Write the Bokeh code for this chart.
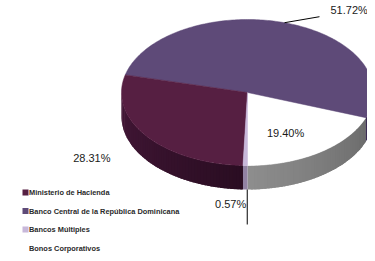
import math
from bokeh.plotting import figure
from bokeh.models import Range1d
from bokeh.embed import file_html
from bokeh.resources import INLINE
from bokeh.core.properties import value

# ---- data ----
categories = ["Ministerio de Hacienda",
              "Banco Central de la República Dominicana",
              "Bancos Múltiples",
              "Bonos Corporativos"]
values = [28.31, 51.72, 0.57, 19.40]
labels = ["28.31%", "51.72%", "0.57%", "19.40%"]
top_colors = ["#561f42", "#5e4a78", "#c8b8da", "#ffffff"]
side_light = ["#48193b", "#3a2c52", "#9a8aab", "#8e8e8e"]
side_dark = ["#2a0d22", "#2a1f3b", "#8a7a9b", "#6c6c6c"]
legend_colors = ["#561f42", "#5e4a78", "#c8b8da", "#ffffff"]
# drawing order (counter-clockwise from the bottom)
order = [3, 1, 0, 2]

# ---- geometry ----
W, H = 367, 253
cx, cy, rx, ry, depth = 247, 92, 126, 73, 24
start = 270.0

p = figure(width=W, height=H, output_backend="svg", toolbar_location=None,
           x_range=Range1d(0, W), y_range=Range1d(H, 0),
           min_border=0, outline_line_color=None)
p.axis.visible = False
p.grid.visible = False
p.background_fill_color = "white"
p.border_fill_color = "white"


def pt(a, dy=0.0):
    r = math.radians(a)
    return cx + rx * math.cos(r), cy - ry * math.sin(r) + dy


def mix(c1, c2, t):
    a = [int(c1[i:i + 2], 16) for i in (1, 3, 5)]
    b = [int(c2[i:i + 2], 16) for i in (1, 3, 5)]
    return "#%02x%02x%02x" % tuple(round(a[k] + (b[k] - a[k]) * t) for k in range(3))


total = sum(values)
spans = {}
a0 = start
for i in order:
    a1 = a0 + values[i] / total * 360.0
    spans[i] = (a0, a1)
    a0 = a1

# sides (front half only), drawn as overlapping strips for a gradient
sx, sy, sc = [], [], []
for i in order:
    a0, a1 = spans[i]
    n = max(1, int((a1 - a0) / 1.5))
    for k in range(n):
        b0 = a0 + (a1 - a0) * k / n
        b1 = a0 + (a1 - a0) * (k + 1) / n
        m = ((b0 + b1) / 2) % 360
        if m < 180:
            continue
        e1 = b1 + (1.2 if k < n - 1 else 0.0)
        p0 = pt(b0); p1 = pt(e1)
        q1 = pt(e1, depth); q0 = pt(b0, depth)
        sx.append([p0[0], p1[0], q1[0], q0[0]])
        sy.append([p0[1], p1[1], q1[1], q0[1]])
        frac = (k + 0.5) / n
        sc.append(mix(side_light[i], side_dark[i], frac))
p.patches(sx, sy, fill_color=sc, line_color=None)

# tops
tx, ty, tc = [], [], []
for i in order:
    a0, a1 = spans[i]
    n = max(2, int((a1 - a0) / 1.0))
    xs, ys = [cx], [cy]
    for k in range(n + 1):
        x, y = pt(a0 + (a1 - a0) * k / n)
        xs.append(x); ys.append(y)
    tx.append(xs); ty.append(ys); tc.append(top_colors[i])
p.patches(tx, ty, fill_color=tc, line_color=tc, line_width=0.5)

font = value("Liberation Sans")
lab_kw = dict(text_font=font, text_font_size="11px", text_baseline="middle",
              text_color="#1a1a1a")

# Banco Central: leader line from mid-angle to the upper right
a0, a1 = spans[1]
mx, my = pt((a0 + a1) / 2)
p.line([mx, mx + 35], [my, my - 6], line_color="black", line_width=1)
p.text([mx + 46], [my - 13], text=[labels[1]], text_align="left", **lab_kw)
# Ministerio
p.text([cx - rx - 11], [157], text=[labels[0]], text_align="right", **lab_kw)
# Bonos Corporativos
a0, a1 = spans[3]
bx, by = pt((a0 + a1) / 2)
p.text([(cx + bx) / 2 + 2], [(cy + by) / 2 + 11], text=[labels[3]],
       text_align="center", **lab_kw)
# Bancos Multiples
a0, a1 = spans[2]
ux, uy = pt((a0 + a1) / 2, depth)
p.line([ux + 2, ux + 2], [uy, uy + 35], line_color="black", line_width=1)
p.text([ux + 1], [uy + 15], text=[labels[2]], text_align="right", **lab_kw)

# legend
ly0, dy = 192, 18.5
for k, name in enumerate(categories):
    yy = ly0 + k * dy
    p.scatter([25], [yy], marker="square", size=6, fill_color=legend_colors[k],
              line_color=None)
    p.text([28.5], [yy], text=[name], text_font=font, text_font_size="7.4px",
           text_font_style="bold", text_align="left", text_baseline="middle",
           text_color="#2a2a2a")

open("out.html", "w").write(file_html(p, INLINE))
